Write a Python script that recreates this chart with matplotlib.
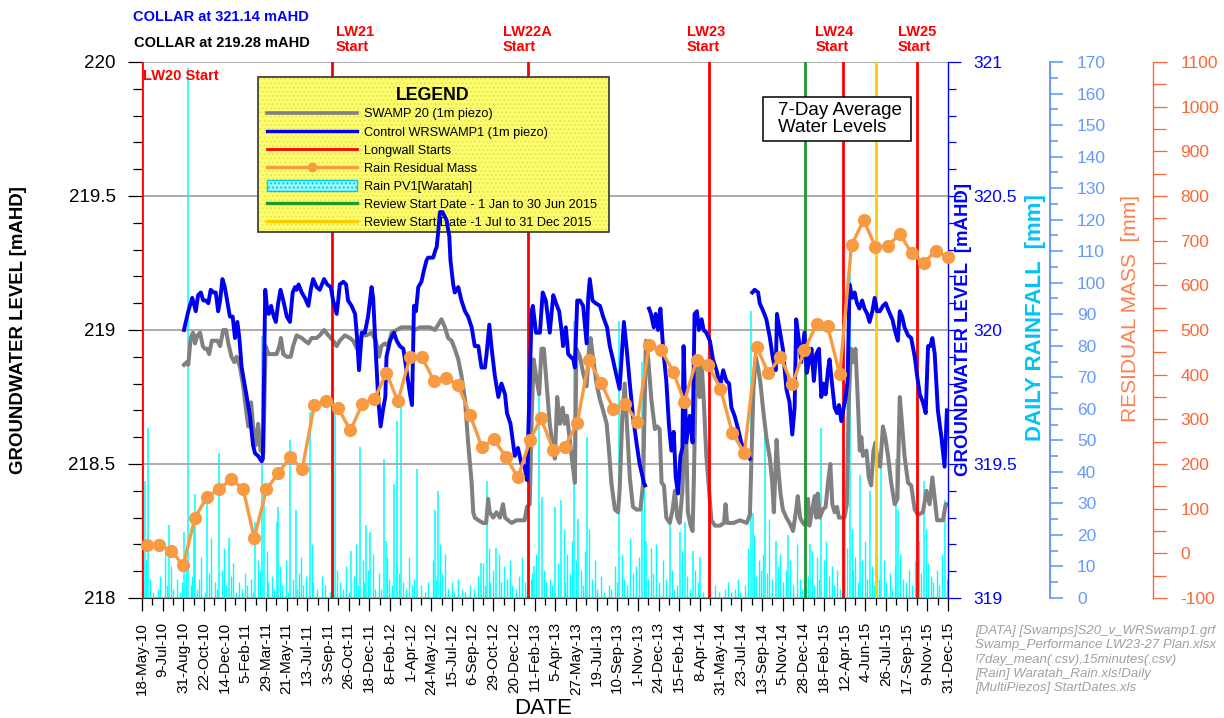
import datetime as dt
import calendar
import numpy as np
import matplotlib
matplotlib.use("Agg")
import matplotlib.pyplot as plt
import matplotlib.dates as mdates
from matplotlib.ticker import MultipleLocator, FixedLocator, FuncFormatter
from matplotlib.lines import Line2D
from matplotlib.patches import Patch, Rectangle
from matplotlib.colors import to_rgba

plt.rcParams['font.family'] = ['Liberation Sans', 'DejaVu Sans']
plt.rcParams['axes.unicode_minus'] = False

# ---------------------------------------------------------------- data
START = dt.datetime(2010, 5, 18)
END = dt.datetime(2015, 12, 31, 19, 40)
N_XTICKS = 40

# longwall starts and review dates
lw_names = ["LW20", "LW21", "LW22A", "LW23", "LW24", "LW25"]
lw_dates = ["2010-05-18", "2011-09-14", "2013-01-25", "2014-05-01", "2015-04-08", "2015-10-13"]
review1_date = "2015-01-01"
review2_date = "2015-07-01"

# SWAMP 20 (1m piezo), 7-day mean, days after START -> mAHD (left axis)
s20_day = [107, 114, 118, 124, 130, 135, 141, 148, 155, 160, 166, 171, 178, 186, 192, 199, 207, 214, 220, 228,
           235, 241, 250, 258, 267, 271, 278, 283, 290, 296, 302, 309, 315, 322, 334, 343, 350, 354, 360, 369,
           379, 385, 394, 407, 415, 424, 432, 445, 453, 464, 475, 487, 496, 504, 517, 530, 538, 548, 560, 572,
           585, 596, 604, 610, 619, 627, 636, 649, 661, 683, 695, 708, 721, 734, 746, 755, 763, 772, 780, 789,
           797, 806, 814, 823, 831, 840, 844, 848, 857, 869, 877, 882, 886, 895, 903, 912, 920, 925, 933, 942,
           954, 967, 975, 981, 988, 993, 998, 1005, 1012, 1018, 1024, 1031, 1039, 1048, 1052, 1058, 1065, 1072,
           1077, 1083, 1090, 1097, 1103, 1107, 1116, 1124, 1133, 1139, 1143, 1150, 1158, 1167, 1175, 1184, 1190,
           1196, 1205, 1213, 1217, 1224, 1230, 1236, 1243, 1251, 1260, 1270, 1277, 1284, 1290, 1298, 1307, 1313,
           1319, 1324, 1330, 1336, 1345, 1352, 1358, 1364, 1370, 1377, 1380, 1387, 1391, 1398, 1403, 1406, 1411,
           1417, 1421, 1426, 1431, 1438, 1445, 1451, 1460, 1473, 1483, 1487, 1491, 1507, 1524, 1541, 1549, 1558,
           1564, 1571, 1576, 1583, 1591, 1600, 1606, 1610, 1617, 1621, 1627, 1633, 1642, 1650, 1659, 1667, 1671,
           1677, 1684, 1691, 1697, 1701, 1708, 1714, 1718, 1722, 1727, 1735, 1742, 1748, 1754, 1759, 1765, 1771,
           1776, 1790, 1796, 1801, 1807, 1813, 1818, 1824, 1829, 1833, 1837, 1846, 1852, 1858, 1864, 1869, 1875,
           1881, 1888, 1894, 1901, 1909, 1918, 1925, 1931, 1935, 1943, 1952, 1960, 1969, 1977, 1990, 1999, 2007,
           2014, 2020, 2026, 2034, 2041, 2048, 2053]
s20_level = [218.87, 218.88, 218.87, 218.97, 218.99, 218.95, 218.98, 218.99, 218.94, 218.93, 218.93, 218.91, 218.96,
             218.96, 218.96, 218.94, 219.00, 219.00, 218.95, 218.90, 218.88, 218.90, 218.86, 218.79, 218.68, 218.64,
             218.73, 218.64, 218.57, 218.65, 218.55, 218.54, 218.94, 218.91, 218.91, 218.91, 218.94, 218.97, 218.91,
             218.90, 218.90, 218.94, 218.98, 218.97, 218.96, 218.95, 218.97, 218.97, 218.98, 219.00, 218.98, 218.96,
             218.94, 218.96, 218.98, 218.97, 218.96, 218.93, 218.98, 218.98, 218.99, 218.96, 218.90, 218.94, 218.95,
             218.94, 218.99, 219.00, 219.01, 219.01, 219.00, 219.01, 219.01, 219.01, 219.00, 219.02, 219.04, 219.01,
             218.97, 218.96, 218.93, 218.89, 218.83, 218.74, 218.58, 218.43, 218.32, 218.30, 218.29, 218.28, 218.28,
             218.37, 218.32, 218.30, 218.32, 218.30, 218.35, 218.30, 218.29, 218.28, 218.29, 218.29, 218.29, 218.34,
             218.35, 218.68, 218.89, 218.82, 218.76, 218.93, 218.93, 218.80, 218.65, 218.55, 218.52, 218.75, 218.65,
             218.71, 218.65, 218.68, 218.59, 218.50, 218.43, 218.93, 218.90, 218.84, 218.79, 218.93, 218.97, 218.89,
             218.80, 218.74, 218.70, 218.65, 218.55, 218.43, 218.33, 218.32, 218.40, 218.68, 218.80, 218.64, 218.45,
             218.34, 218.33, 218.33, 218.43, 218.96, 218.89, 218.74, 218.63, 218.64, 218.63, 218.43, 218.42, 218.30,
             218.28, 218.33, 218.40, 218.30, 218.28, 218.40, 218.55, 218.58, 218.32, 218.27, 218.25, 218.43, 218.80,
             218.86, 218.75, 218.88, 218.75, 218.53, 218.40, 218.29, 218.27, 218.27, 218.28, 218.35, 218.28, 218.28,
             218.29, 218.28, 218.31, 218.78, 218.90, 218.85, 218.80, 218.70, 218.60, 218.52, 218.43, 218.32, 218.59,
             218.49, 218.39, 218.33, 218.30, 218.28, 218.25, 218.33, 218.38, 218.30, 218.28, 218.27, 218.37, 218.27,
             218.33, 218.38, 218.30, 218.39, 218.30, 218.33, 218.34, 218.43, 218.50, 218.35, 218.32, 218.34, 218.30,
             218.30, 218.35, 218.74, 218.93, 218.88, 218.93, 218.74, 218.55, 218.60, 218.53, 218.55, 218.45, 218.42,
             218.55, 218.58, 218.50, 218.49, 218.64, 218.60, 218.53, 218.43, 218.35, 218.37, 218.75, 218.68, 218.53,
             218.43, 218.42, 218.33, 218.31, 218.32, 218.40, 218.35, 218.45, 218.37, 218.29, 218.29, 218.29, 218.35,
             218.35]

# Control WRSWAMP1 (1m piezo), 7-day mean, days after START -> mAHD (right blue axis); nan = data gap
wr_day = [107, 110, 118, 128, 132, 137, 143, 150, 156, 163, 169, 175, 182, 188, 194, 199, 205, 211, 217, 224,
          231, 237, 243, 248, 254, 260, 267, 275, 283, 288, 296, 305, 308, 314, 318, 323, 329, 334, 336, 341,
          347, 353, 360, 369, 377, 384, 390, 394, 399, 407, 415, 424, 430, 436, 445, 453, 464, 472, 481, 487,
          496, 500, 504, 513, 520, 525, 534, 543, 548, 553, 560, 568, 576, 585, 589, 596, 602, 608, 615, 620,
          623, 632, 642, 649, 657, 666, 674, 683, 688, 693, 698, 704, 712, 718, 725, 729, 734, 742, 748, 751,
          755, 759, 766, 776, 783, 786, 793, 797, 806, 814, 823, 831, 840, 848, 857, 865, 874, 878, 885, 891,
          899, 908, 916, 925, 930, 939, 950, 958, 967, 975, 981, 993, 996, 1004, 1014, 1021, 1029, 1039, 1048,
          1055, 1063, 1069, 1073, 1080, 1086, 1099, 1103, 1109, 1116, 1124, 1133, 1137, 1141, 1148, 1156, 1167,
          1175, 1185, 1192, 1200, 1209, 1217, 1228, 1235, 1243, 1251, 1260, 1268, 1279, 1282, 1287, 1292, 1297,
          1304, 1309, 1315, 1321, 1328, 1336, 1343, 1349, 1355, 1360, 1366, 1372, 1377, 1380, 1387, 1396, 1403,
          1408, 1414, 1419, 1426, 1431, 1438, 1447, 1455, 1464, 1473, 1481, 1489, 1496, 1502, 1510, 1519, 1527,
          1540, 1549, 1552, 1555, 1561, 1570, 1574, 1583, 1591, 1600, 1608, 1615, 1618, 1625, 1633, 1642, 1650,
          1657, 1663, 1667, 1674, 1680, 1688, 1694, 1701, 1706, 1712, 1718, 1725, 1731, 1737, 1742, 1748, 1752,
          1759, 1765, 1771, 1776, 1782, 1793, 1798, 1803, 1810, 1816, 1822, 1828, 1835, 1841, 1848, 1854, 1861,
          1867, 1873, 1880, 1888, 1895, 1903, 1912, 1920, 1926, 1931, 1937, 1943, 1952, 1960, 1969, 1975, 1982,
          1990, 1997, 2003, 2009, 2014, 2020, 2028, 2037, 2045, 2051]
wr_level = [320.00, 320.02, 320.07, 320.12, 320.10, 320.07, 320.13, 320.14, 320.11, 320.11, 320.10, 320.15, 320.14,
            320.14, 320.07, 320.11, 320.19, 320.16, 320.11, 320.05, 320.05, 319.97, 320.03, 319.97, 319.86, 319.81,
            319.75, 319.68, 319.57, 319.54, 319.53, 319.51, 319.52, 320.15, 320.09, 320.06, 320.09, 320.06, 320.05,
            320.03, 320.10, 320.15, 320.11, 320.05, 320.03, 320.14, 320.16, 320.15, 320.17, 320.14, 320.12, 320.09,
            320.15, 320.19, 320.16, 320.15, 320.19, 320.17, 320.16, 320.11, 320.06, 320.11, 320.17, 320.18, 320.17,
            320.11, 320.09, 320.06, 319.97, 319.85, 319.99, 319.99, 320.05, 320.16, 320.12, 319.91, 319.74, 319.64,
            319.71, 319.75, 319.90, 319.96, 319.99, 319.96, 319.94, 319.93, 319.85, 319.76, 319.72, 320.09, 320.07,
            320.16, 320.18, 320.22, 320.26, 320.27, 320.27, 320.27, 320.30, 320.31, 320.37, 320.44, 320.44, 320.41,
            320.35, 320.26, 320.17, 320.14, 320.16, 320.11, 320.07, 320.05, 320.01, 319.94, 319.94, 319.86, 319.86,
            319.91, 320.02, 319.93, 319.83, 319.75, 319.80, 319.76, 319.69, 319.65, 319.53, 319.56, 319.50, 319.49,
            319.44, 320.07, 320.09, 319.99, 319.99, 320.14, 320.11, 319.99, 320.13, 320.10, 320.07, 320.00, 319.94,
            320.01, 319.91, 319.89, 319.86, 320.11, 320.11, 320.09, 319.95, 320.12, 320.19, 320.11, 320.10, 320.09,
            320.05, 320.01, 319.94, 319.89, 319.83, 319.78, 320.03, 319.93, 319.80, 319.68, 319.58, 319.50, 319.43,
            319.42, np.nan, 320.08, 320.06, 320.01, 320.06, 320.00, 320.08, 319.93, 319.81, 319.64, 319.55, 319.62,
            319.45, 319.39, 319.53, 319.56, 319.94, 319.58, 319.68, 319.58, 320.06, 320.07, 320.00, 320.04, 320.00,
            319.99, 319.96, 319.89, 319.85, 319.79, 319.85, 319.81, 319.80, 319.71, 319.68, 319.63, 319.58, 319.54,
            319.52, np.nan, 320.14, 320.15, 320.14, 320.10, 320.07, 320.04, 319.97, 319.89, 319.85, 320.06, 320.00,
            319.93, 319.78, 319.73, 319.61, 319.71, 320.04, 319.96, 319.88, 319.99, 319.84, 319.89, 319.93, 319.81,
            319.91, 319.93, 319.75, 319.80, 319.76, 319.85, 319.89, 319.79, 319.71, 319.69, 319.72, 319.66, 319.75,
            319.81, 320.17, 320.12, 320.14, 320.10, 320.08, 320.11, 320.08, 320.06, 320.03, 320.07, 320.12, 320.07,
            320.07, 320.09, 320.10, 320.07, 320.04, 319.99, 319.96, 320.07, 320.05, 320.01, 319.98, 319.97, 319.90,
            319.83, 319.76, 319.73, 319.69, 319.94, 319.94, 319.97, 319.91, 319.70, 319.60, 319.49, 319.70]

# Rain residual mass, one value per month end (May 2010 .. Dec 2015), mm
resid_first_month = (2010, 5)
resid_mm = [19, 19, 6, -27, 80, 127, 143, 167, 143, 34, 143, 179, 216, 188, 331, 341, 325, 275, 334, 345,
            404, 340, 440, 440, 386, 393, 377, 310, 238, 255, 216, 170, 254, 302, 231, 239, 292, 433, 381, 323,
            334, 295, 466, 455, 406, 339, 433, 422, 369, 270, 225, 463, 403, 440, 378, 455, 513, 509, 401, 690,
            746, 686, 688, 715, 672, 650, 677, 663]

# Daily rainfall PV1 [Waratah]: days after START -> mm
rain_heavy_day = [8, 16, 70, 108, 118, 132, 135, 166, 196, 222, 288, 305, 311, 343, 346, 377, 392, 428, 493, 532,
                  555, 571, 582, 616, 621, 642, 651, 659, 700, 746, 755, 863, 878, 903, 998, 1012, 1018, 1052,
                  1068, 1100, 1111, 1133, 1216, 1273, 1284, 1345, 1370, 1383, 1404, 1421, 1553, 1557, 1587, 1615,
                  1646, 1701, 1731, 1791, 1803, 1829, 1854, 1884, 1922, 1926, 1992, 2045]
rain_heavy_mm = [37, 54, 23, 21, 168, 27, 33, 34, 46, 19, 24, 83, 36, 24, 29, 50, 28, 59, 59, 15,
                 48, 23, 21, 44, 18, 36, 56, 64, 41, 28, 34, 11, 37, 16, 10, 68, 32, 29,
                 31, 88, 25, 51, 88, 75, 18, 26, 21, 24, 15, 13, 91, 27, 55, 18,
                 20, 17, 54, 26, 110, 39, 34, 43, 44, 28, 37, 31]
rain_light_day = [3, 11, 21, 27, 40, 45, 58, 63, 75, 79, 90, 96, 103, 113, 124, 128, 140, 146, 150, 160, 171, 176,
                  185, 190, 203, 209, 214, 226, 231, 240, 247, 256, 262, 268, 279, 284, 295, 300, 318, 322, 330,
                  337, 352, 358, 366, 372, 384, 396, 399, 405, 411, 418, 433, 437, 446, 458, 466, 478, 487, 497,
                  505, 512, 520, 527, 540, 545, 550, 562, 566, 577, 589, 594, 604, 610, 625, 629, 636, 647, 655,
                  666, 672, 680, 688, 694, 710, 721, 730, 741, 750, 760, 765, 772, 779, 789, 796, 806, 815, 824,
                  835, 846, 857, 870, 873, 884, 888, 895, 910, 915, 922, 930, 938, 944, 952, 960, 968, 975, 981,
                  990, 995, 1005, 1024, 1030, 1040, 1046, 1060, 1075, 1079, 1084, 1090, 1095, 1106, 1118, 1123,
                  1128, 1140, 1146, 1155, 1160, 1170, 1178, 1190, 1195, 1205, 1211, 1222, 1228, 1236, 1244, 1250,
                  1258, 1266, 1278, 1290, 1296, 1302, 1310, 1318, 1328, 1335, 1350, 1356, 1363, 1376, 1390, 1396,
                  1410, 1416, 1430, 1445, 1460, 1470, 1485, 1494, 1500, 1510, 1518, 1525, 1536, 1545, 1560, 1565,
                  1572, 1578, 1583, 1592, 1598, 1606, 1620, 1625, 1633, 1640, 1652, 1660, 1668, 1676, 1682, 1690,
                  1696, 1708, 1712, 1720, 1726, 1738, 1744, 1750, 1757, 1764, 1770, 1778, 1785, 1796, 1808, 1812,
                  1818, 1824, 1835, 1842, 1848, 1860, 1866, 1873, 1878, 1890, 1897, 1905, 1912, 1918, 1932, 1940,
                  1948, 1955, 1962, 1970, 1980, 1986, 1997, 2003, 2010, 2016, 2025, 2030, 2038, 2050]
rain_light_mm = [4, 12, 6, 2, 3, 7, 15, 4, 10, 3, 6, 2, 5, 9, 4, 7, 3, 6, 13, 2, 8, 19,
                 5, 3, 9, 16, 4, 7, 11, 2, 5, 3, 8, 4, 6, 2, 12, 9, 15, 5, 7,
                 3, 10, 4, 12, 2, 6, 3, 8, 13, 4, 7, 17, 5, 3, 7, 4, 2, 3, 9,
                 5, 3, 10, 2, 7, 17, 4, 12, 5, 9, 14, 3, 8, 3, 13, 6, 4, 11, 8,
                 5, 3, 13, 4, 6, 4, 2, 5, 12, 6, 17, 8, 14, 3, 5, 2, 6, 3, 2,
                 4, 3, 7, 11, 4, 16, 5, 9, 14, 5, 10, 6, 12, 4, 3, 7, 13, 5, 3,
                 6, 8, 14, 9, 5, 6, 4, 11, 22, 5, 14, 8, 18, 12, 9, 4,
                 15, 22, 6, 12, 3, 7, 2, 4, 3, 10, 5, 14, 6, 4, 19, 8,
                 10, 13, 35, 6, 16, 8, 17, 5, 12, 6, 9, 3, 4, 15, 7, 3,
                 9, 5, 2, 3, 4, 2, 3, 5, 2, 3, 6, 2, 4, 16, 20, 7,
                 12, 9, 14, 8, 25, 6, 10, 14, 5, 9, 12, 4, 17, 6, 3, 10,
                 7, 15, 4, 13, 6, 12, 18, 7, 10, 4, 9, 3, 8, 16, 22, 9,
                 13, 5, 12, 18, 6, 10, 4, 14, 6, 12, 5, 8, 3, 10, 14, 6,
                 5, 9, 4, 12, 18, 8, 22, 11, 7, 5, 9, 4, 14, 6]

legend_labels = ["SWAMP 20 (1m piezo)", "Control WRSWAMP1 (1m piezo)", "Longwall Starts", "Rain Residual Mass",
                 "Rain PV1[Waratah]", "Review Start Date - 1 Jan to 30 Jun 2015",
                 "Review Start Date -1 Jul to 31 Dec 2015"]
footnote_lines = ["[DATA] [Swamps]S20_v_WRSwamp1.grf", "Swamp_Performance LW23-27 Plan.xlsx",
                  "!7day_mean(.csv),15minutes(.csv)", "[Rain] Waratah_Rain.xls!Daily",
                  "[MultiPiezos] StartDates.xls"]

# ---------------------------------------------------------------- helpers
W, H = 1224, 718
t0 = mdates.date2num(START)
t1 = mdates.date2num(END)


def days_to_num(days):
    return np.array([t0 + d for d in days], dtype=float)


def month_ends(first, n):
    y, m = first
    out = []
    for _ in range(n):
        out.append(mdates.date2num(dt.datetime(y, m, calendar.monthrange(y, m)[1])))
        m += 1
        if m > 12:
            m, y = 1, y + 1
    return np.array(out)


def fx(px):
    return px / W


def fy(py):
    return 1 - py / H


# colours
C_GREY = '#808080'
C_BLUE = '#0000F0'
C_RED = '#FF0000'
C_ORANGE = '#F79A42'
C_CYAN = '#00FFFF'
C_GREEN = '#1A9A2A'
C_GOLD = '#FFCC00'
C_RAINAX = '#6699FF'
C_RESAX = '#FF6633'

# ---------------------------------------------------------------- figure
fig = plt.figure(figsize=(W / 100, H / 100), dpi=100)
rect = [fx(142), fy(598), (948 - 142) / W, (598 - 62) / H]
ax = fig.add_axes(rect)
ax_rain = ax.twinx()
ax_blue = ax.twinx()
ax_res = ax.twinx()
ax_rain.set_zorder(1)
ax.set_zorder(2)
ax_blue.set_zorder(3)
ax_res.set_zorder(4)
ax.patch.set_visible(False)
for a in (ax_rain, ax_blue, ax_res):
    a.patch.set_visible(False)
    for s in ('left', 'top', 'bottom'):
        a.spines[s].set_visible(False)

# rain bars
ax_rain.vlines(days_to_num(rain_light_day), 0, rain_light_mm, color=C_CYAN, lw=1.0)
ax_rain.vlines(days_to_num(rain_heavy_day), 0, rain_heavy_mm, color=C_CYAN, lw=1.1)
ax_rain.set_ylim(0, 170)

# main axis
ax.plot(days_to_num(s20_day), s20_level, color=C_GREY, lw=2.9, zorder=3, solid_joinstyle='round')
for d in lw_dates:
    ax.axvline(mdates.datestr2num(d), color=C_RED, lw=2.0, zorder=4)
ax.axvline(mdates.datestr2num(review1_date), color=C_GREEN, lw=2.0, zorder=4)
ax.axvline(mdates.datestr2num(review2_date), color=C_GOLD, lw=2.0, zorder=4)
ax.set_xlim(t0, t1)
ax.set_ylim(218, 220)
ax.yaxis.set_major_locator(MultipleLocator(0.5))
ax.yaxis.set_minor_locator(MultipleLocator(0.1))
ax.yaxis.set_major_formatter(FuncFormatter(lambda v, p: f"{v:g}"))
ax.grid(axis='y', which='major', color='#A6A6A6', lw=1.3, zorder=0)
ax.set_axisbelow(True)
ax.spines['top'].set_visible(False)
ax.spines['right'].set_visible(False)
ax.spines['bottom'].set_color('#333333')
ax.tick_params(axis='y', which='major', length=10, width=0.9, labelsize=13.5, pad=9, left=True, right=False)
ax.tick_params(axis='y', which='minor', length=6.5, width=0.9, left=True, right=False)

# x ticks
major_x = np.linspace(t0, t1, N_XTICKS)
minor_x = (major_x[:-1] + major_x[1:]) / 2
ax.xaxis.set_major_locator(FixedLocator(major_x))
ax.xaxis.set_minor_locator(FixedLocator(minor_x))


def date_label(v, p):
    d = mdates.num2date(np.floor(v))
    return f"{d.day}-{d.strftime('%b-%y')}"


ax.xaxis.set_major_formatter(FuncFormatter(date_label))
ax.tick_params(axis='x', which='major', length=9.4, width=0.9, labelsize=11, pad=8, labelrotation=90)
ax.tick_params(axis='x', which='minor', length=5, width=0.9)

# blue axis
ax_blue.plot(days_to_num(wr_day), wr_level, color=C_BLUE, lw=2.8, solid_joinstyle='round')
ax_blue.set_ylim(319, 321)
ax_blue.yaxis.set_major_locator(MultipleLocator(0.5))
ax_blue.yaxis.set_minor_locator(MultipleLocator(0.1))
ax_blue.yaxis.set_major_formatter(FuncFormatter(lambda v, p: f"{v:g}"))
ax_blue.spines['right'].set_color('blue')
ax_blue.spines['right'].set_linewidth(1.0)
ax_blue.tick_params(axis='y', which='major', colors='blue', length=9.4, width=0.9, labelsize=12.5, pad=9)
ax_blue.tick_params(axis='y', which='minor', colors='blue', length=5.8, width=0.9)

# rain axis (offsets in points: 102 px and 205 px at 100 dpi)
ax_rain.spines['right'].set_position(('outward', 102 * 0.72))
ax_rain.spines['right'].set_color(C_RAINAX)
ax_rain.spines['right'].set_linewidth(1.4)
ax_rain.yaxis.set_major_locator(MultipleLocator(10))
ax_rain.yaxis.set_minor_locator(MultipleLocator(5))
ax_rain.tick_params(axis='y', which='major', colors=C_RAINAX, length=9.4, width=1.2, labelsize=12.5, pad=10)
ax_rain.tick_params(axis='y', which='minor', colors=C_RAINAX, length=5.8, width=1.2)

# residual axis
ax_res.plot(month_ends(resid_first_month, len(resid_mm)), resid_mm, '-o', color=C_ORANGE, lw=2.4,
            ms=8.5, clip_on=False)
ax_res.set_ylim(-100, 1100)
ax_res.spines['right'].set_position(('outward', 205 * 0.72))
ax_res.spines['right'].set_color(C_RESAX)
ax_res.spines['right'].set_linewidth(1.0)
ax_res.yaxis.set_major_locator(MultipleLocator(100))
ax_res.yaxis.set_minor_locator(MultipleLocator(50))
ax_res.tick_params(axis='y', which='major', colors=C_RESAX, length=9.8, width=0.9, labelsize=12.5, pad=10)
ax_res.tick_params(axis='y', which='minor', colors=C_RESAX, length=9.4, width=0.9)

# legend (content) and its hatched yellow box
handles = [Line2D([], [], color=C_GREY, lw=2.6),
           Line2D([], [], color=C_BLUE, lw=2.4),
           Line2D([], [], color=C_RED, lw=2.0),
           Line2D([], [], color=C_ORANGE, lw=2.4, marker='o', ms=6),
           Patch(facecolor='#9BFFFF', edgecolor='#00C8F0', hatch='....', lw=1),
           Line2D([], [], color=C_GREEN, lw=2.4),
           Line2D([], [], color=C_GOLD, lw=2.4)]
leg = ax.legend(handles, legend_labels, loc='upper left', bbox_to_anchor=((257 - 142) / 806, (598 - 77) / 536),
                borderaxespad=0, title='LEGEND', title_fontproperties={'weight': 'bold', 'size': 12.8},
                fontsize=9.2, handlelength=7.0, handleheight=0.9, handletextpad=0.6, labelspacing=0.42,
                borderpad=0.8, frameon=False, numpoints=1)
leg.set_zorder(10)
try:
    leg._legend_box.sep = 0.2 * 9.2 * 100 / 72
except Exception:
    pass

leg_box = Rectangle((fx(258), fy(232)), (609 - 258) / W, (232 - 77) / H, transform=fig.transFigure,
                    facecolor='#FFFF6E', edgecolor='#333333', lw=1.2, hatch='....', zorder=9)
leg_box._hatch_color = to_rgba('#E6E658')
ax.add_artist(leg_box)
leg_box.set_transform(fig.transFigure)

# annotations
trans_top = matplotlib.transforms.blended_transform_factory(ax.transData, ax.transAxes)
lw_text_pos = [("LW21\nStart", 494, 'left'), ("LW22A\nStart", 981, 'center'), ("LW23\nStart", 1437, 'center'),
               ("LW24\nStart", 1765, 'center'), ("LW25\nStart", 1974, 'center')]
for txt, day, ha in lw_text_pos:
    ax.text(t0 + day, 1.015, txt, transform=trans_top, ha=ha, va='bottom', color=C_RED,
            fontsize=10.5, fontweight='bold', linespacing=1.05, multialignment='left')
ax.text(t0 + 1.5, (598 - 76) / 536, "LW20 Start", transform=trans_top, ha='left', va='center', color=C_RED,
        fontsize=10.5, fontweight='bold', zorder=6)

fig.text(fx(133), fy(17), "COLLAR at 321.14 mAHD", color='blue', fontsize=10.5, fontweight='bold',
         ha='left', va='center')
fig.text(fx(134), fy(43), "COLLAR at 219.28 mAHD", color='black', fontsize=10.5, fontweight='bold',
         ha='left', va='center')

box = Rectangle((fx(763), fy(141)), 148 / W, 44 / H, transform=fig.transFigure, facecolor='white',
                edgecolor='black', lw=1.1, zorder=20)
fig.add_artist(box)
fig.text(fx(778), fy(119), "7-Day Average\nWater Levels", fontsize=13.5, ha='left', va='center',
         linespacing=0.95, zorder=21)

# axis labels
fig.text(fx(19), fy(330), "GROUNDWATER LEVEL [mAHD]", rotation=90, ha='center', va='center',
         fontsize=13.4, fontweight='bold', color='black')
fig.text(fx(964), fy(330), "GROUNDWATER LEVEL  [mAHD]", rotation=90, ha='center', va='center',
         fontsize=13.4, fontweight='bold', color='blue')
fig.text(fx(1035), fy(318), "DAILY RAINFALL  [mm]", rotation=90, ha='center', va='center',
         fontsize=16, fontweight='bold', color='#00C4F4')
fig.text(fx(1130), fy(309), "RESIDUAL MASS  [mm]", rotation=90, ha='center', va='center',
         fontsize=15, color='#FF7F50')
fig.text(fx(543), fy(708), "DATE", ha='center', va='center', fontsize=16)

fig.text(fx(975), fy(625), "\n".join(footnote_lines), ha='left', va='top', fontsize=9.5, style='italic',
         color='#A0A0A0', linespacing=1.25)

fig.savefig("out.png", dpi=100)
